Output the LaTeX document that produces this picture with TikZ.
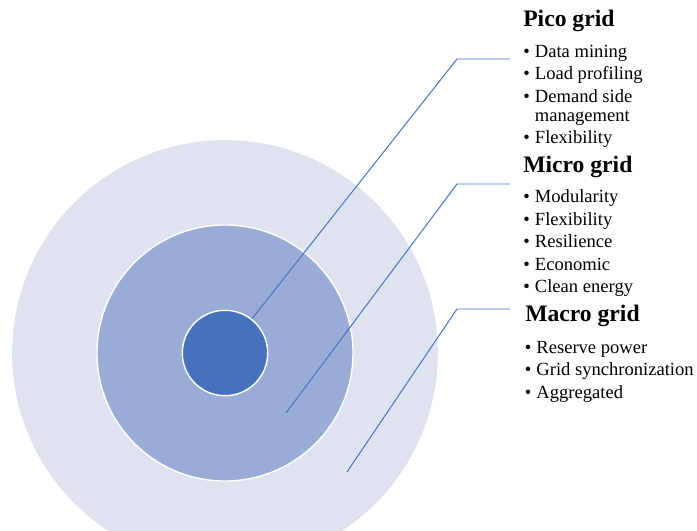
\documentclass[tikz,border=0pt]{standalone}
\usepackage{fontspec}
\setmainfont{Liberation Serif}
\usetikzlibrary{positioning}

\definecolor{ringlight}{HTML}{DEE3EF}
\definecolor{ringmid}{HTML}{99ACD6}
\definecolor{ringcore}{HTML}{3F6EBB}
\definecolor{leadblue}{HTML}{4472C4}

\newcommand{\bul}{\makebox[8.3pt][l]{\textbullet}}

\tikzset{
    ring/.style={circle, draw=white, line width=1pt, inner sep=0pt},
    leader/.style={draw=leadblue, line width=0.7pt},
    heading/.style={anchor=base west, inner sep=0pt, font=\fontsize{16.8}{19}\selectfont\bfseries},
    items/.style={anchor=base west, inner sep=0pt, font=\fontsize{13.2}{13.6}\selectfont},
}

\begin{document}
\begin{tikzpicture}[x=0.025cm, y=-0.025cm]
    \useasboundingbox (0,0) rectangle (697,531);
    \clip (0,0) rectangle (697,531);

    % rings
    \node[ring, draw=none, fill=ringlight, minimum size=10.64cm] (macro) at (225,353) {};
    \node[ring, fill=ringmid, minimum size=6.4cm] (micro) at (225,353) {};

    % leader lines
    \coordinate (microtip) at (286,413);
    \coordinate (macrotip) at (347,472);
    \coordinate (picoknee) at (457,59);
    \coordinate (microknee) at (457,184);
    \coordinate (macroknee) at (457,309);
    \coordinate (picoend) at (510,59);
    \coordinate (microend) at (510,184);
    \coordinate (macroend) at (510,309);

    \draw[leader] (micro.center) -- (picoknee) -- (picoend);
    \draw[leader] (microtip) -- (microknee) -- (microend);
    \draw[leader] (macrotip) -- (macroknee) -- (macroend);

    \node[ring, fill=ringcore, fill opacity=0.92, minimum size=2.135cm] (pico) at (225,353) {};

    % texts
    \node[heading] (picohead) at (523,27) {Pico grid};
    \node[items] (picolist) at (523,57.3) {\begin{tabular}[t]{@{}l@{}l@{}}
        \bul & Data mining\\[2.4pt]
        \bul & Load profiling\\[2.4pt]
        \bul & Demand side\\
             & management\\[2.4pt]
        \bul & Flexibility
    \end{tabular}};

    \node[heading] (microhead) at (523,172.7) {Micro grid};
    \node[items] (microlist) at (523,202.7) {\begin{tabular}[t]{@{}l@{}l@{}}
        \bul & Modularity\\[2.4pt]
        \bul & Flexibility\\[2.4pt]
        \bul & Resilience\\[2.4pt]
        \bul & Economic\\[2.4pt]
        \bul & Clean energy
    \end{tabular}};

    \node[heading] (macrohead) at (525,321.7) {Macro grid};
    \node[items] (macrolist) at (524.5,353.3) {\begin{tabular}[t]{@{}l@{}l@{}}
        \bul & Reserve power\\[2.4pt]
        \bul & Grid synchronization\\[2.4pt]
        \bul & Aggregated
    \end{tabular}};
\end{tikzpicture}
\end{document}
